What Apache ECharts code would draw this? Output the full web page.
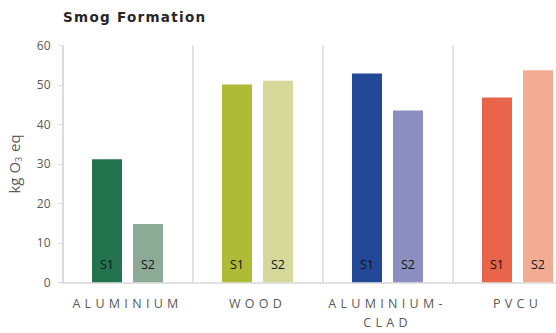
<!DOCTYPE html>
<html>
<head>
<meta charset="utf-8">
<script src="https://cdn.jsdelivr.net/npm/echarts@6/dist/echarts.min.js"></script>
<style>
  html, body { margin: 0; padding: 0; background: #ffffff; }
  #chart { width: 556px; height: 333px; }
</style>
</head>
<body>
<div id="chart"></div>
<script>
// Smog formation per window frame material, two scenarios (S1, S2)
const categories = ['ALUMINIUM', 'WOOD', 'ALUMINIUM-CLAD', 'PVCU'];
const s1Values = [31.2, 50.1, 52.9, 46.8];
const s2Values = [14.8, 51.1, 43.5, 53.7];
const seriesNames = ['S1', 'S2'];
const yMin = 0, yMax = 60, yStep = 10;

// fill colours per material: darker shade for S1, lighter for S2
const s1Colors = ['#24734f', '#adbb37', '#224897', '#e8644a'];
const s2Colors = ['#8caa96', '#d4d99a', '#8a8fbf', '#f3ac94'];

const GRID_LINE = '#d9d9d9';
const TEXT = '#595959';
const FONT = '"Open Sans", sans-serif';

function itemsFor(values, colors) {
  return values.map((v, i) => ({ value: v, itemStyle: { color: colors[i] } }));
}

function barSeries(name, values, colors) {
  return {
    name: name,
    type: 'bar',
    barWidth: 30,
    barGap: '36.7%',
    data: itemsFor(values, colors),
    label: {
      show: true,
      position: 'insideBottom',
      distance: 11.5,
      formatter: name,
      color: '#111111',
      fontFamily: FONT,
      fontSize: 12.5
    }
  };
}

const chart = echarts.init(document.getElementById('chart'), null, { renderer: 'svg' });

chart.setOption({
  animation: false,
  backgroundColor: '#ffffff',
  title: {
    text: 'Smog Formation',
    left: 63,
    top: 10,
    padding: 0,
    textStyle: {
      fontFamily: '"DejaVu Sans", sans-serif',
      fontWeight: 'bold',
      fontSize: 13.5,
      color: '#262626'
    }
  },
  // the plot runs past the right edge of the page, so its last column is cut off
  grid: { left: 62.5, top: 45.5, width: 520, height: 236.8, outerBoundsMode: 'none', containLabel: false },
  xAxis: {
    type: 'category',
    data: categories,
    axisLine: { show: true, lineStyle: { color: GRID_LINE, width: 1.5 } },
    axisTick: { show: false },
    splitLine: { show: true, lineStyle: { color: GRID_LINE, width: 1.5 } },
    axisLabel: {
      color: TEXT,
      fontFamily: FONT,
      fontSize: 12.5,
      margin: 12,
      lineHeight: 19,
      formatter: v => v.replace('-', '-\n')
    }
  },
  yAxis: {
    type: 'value',
    min: yMin,
    max: yMax,
    interval: yStep,
    name: 'kg O{sub|3} eq',
    nameLocation: 'middle',
    nameRotate: 90,
    nameGap: 40,
    nameTextStyle: {
      color: TEXT,
      fontFamily: FONT,
      fontSize: 15,
      rich: {
        sub: { fontSize: 9, color: TEXT, fontFamily: FONT, padding: [9, 1, 0, 0] }
      }
    },
    axisLine: { show: true, lineStyle: { color: GRID_LINE, width: 1.5 } },
    axisTick: { show: true, length: 4, lineStyle: { color: GRID_LINE } },
    splitLine: { show: false },
    axisLabel: { color: TEXT, fontFamily: FONT, fontSize: 12, margin: 12 }
  },
  series: [
    barSeries(seriesNames[0], s1Values, s1Colors),
    barSeries(seriesNames[1], s2Values, s2Colors)
  ]
});

// widen the tracking of the title and the material names
function applyTracking() {
  const spaced = new Set();
  categories.forEach(c => c.replace('-', '-\n').split('\n').forEach(p => spaced.add(p)));
  document.querySelectorAll('#chart text').forEach(t => {
    const s = t.textContent;
    if (s === 'Smog Formation') {
      t.style.letterSpacing = '1.3px';
    } else if (spaced.has(s)) {
      t.style.letterSpacing = '4.3px';
    }
  });
}
chart.on('finished', applyTracking);
applyTracking();
</script>
</body>
</html>
